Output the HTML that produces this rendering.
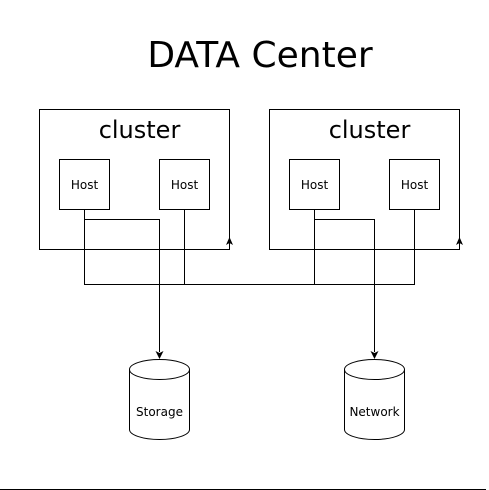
<!DOCTYPE html>
<html><head><meta charset="utf-8"><style>html,body{margin:0;padding:0;background:#fff}svg{display:block}</style></head>
<body>
<svg width="489" height="490" viewBox="0 0 489 490" xmlns="http://www.w3.org/2000/svg" font-family="DejaVu Sans, Liberation Sans, sans-serif">
<rect width="489" height="490" fill="#fff"/>
<text x="260" y="67" font-size="36" text-anchor="middle" fill="#000">DATA Center</text>
<g fill="none" stroke="#000" stroke-width="1">
<rect x="39.5" y="109.5" width="190" height="140"/>
<rect x="269.5" y="109.5" width="190" height="140"/>
<rect x="59.5" y="159.5" width="50" height="50"/>
<rect x="159.5" y="159.5" width="50" height="50"/>
<rect x="289.5" y="159.5" width="50" height="50"/>
<rect x="389.5" y="159.5" width="50" height="50"/>
<path d="M84.5 209.5V284.5H414.5V209.5M184.5 209.5V284.5M314.5 209.5V284.5"/>
<path d="M84.5 219.5H159.5V352"/>
<path d="M314.5 219.5H374.5V352"/>
<path d="M129.5 369.5a30 10 0 0 1 60 0v60a30 10 0 0 1 -60 0z M129.5 369.5a30 10 0 0 0 60 0"/>
<path d="M344.5 369.5a30 10 0 0 1 60 0v60a30 10 0 0 1 -60 0z M344.5 369.5a30 10 0 0 0 60 0"/>
<line x1="0" y1="489.5" x2="486" y2="489.5"/>
</g>
<g fill="#000">
<path d="M155.5 351L159.5 359L163.5 351L159.5 353z"/>
<path d="M370.5 351L374.5 359L378.5 351L374.5 353z"/>
<path d="M226 245L229.5 237L233 245L229.5 243z"/>
<path d="M456 245L459.5 237L463 245L459.5 243z"/>
</g>
<g font-size="24" text-anchor="middle" fill="#000">
<text x="139.5" y="138">cluster</text>
<text x="369.5" y="138">cluster</text>
</g>
<g font-size="12" text-anchor="middle" fill="#000">
<text x="84.5" y="189">Host</text>
<text x="184.5" y="189">Host</text>
<text x="314.5" y="189">Host</text>
<text x="414.5" y="189">Host</text>
<text x="159.5" y="416">Storage</text>
<text x="374.5" y="416">Network</text>
</g>
</svg>
</body></html>
